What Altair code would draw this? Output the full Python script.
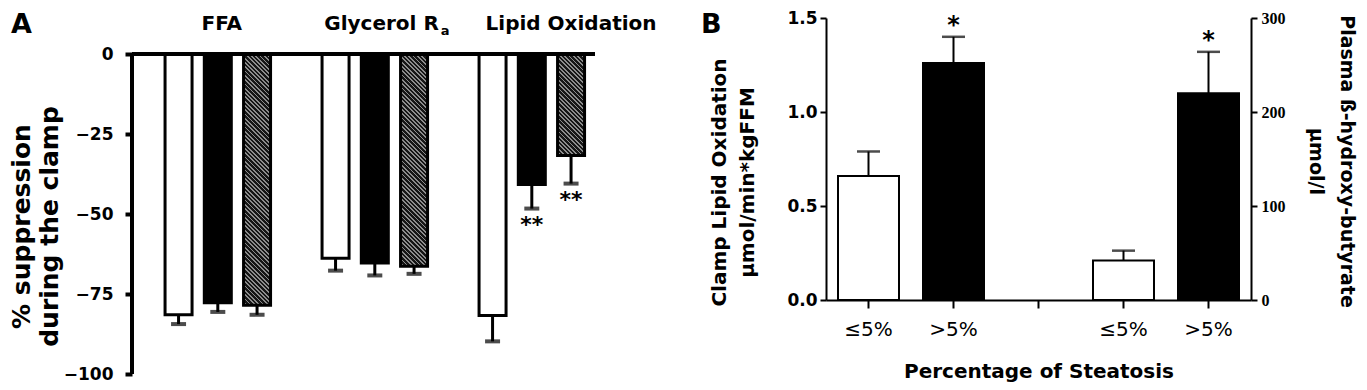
import altair as alt
import pandas as pd

# ---------------- Panel A data ----------------
A_ids = ["FFA_w", "FFA_b", "FFA_h", "Gly_w", "Gly_b", "Gly_h", "Lip_w", "Lip_b", "Lip_h"]
A_groups = ["white", "black", "hatched"] * 3
A_mean = [-81.5, -77.7, -78.5, -63.8, -65.3, -66.3, -81.7, -40.8, -31.7]
A_err = [2.9, 2.9, 3.0, 3.9, 3.9, 2.4, 8.1, 7.5, 8.8]
A_slots = ["FFA_w", "FFA_b", "FFA_h", "gap1", "Gly_w", "Gly_b", "Gly_h", "gap2", "Lip_w", "Lip_b", "Lip_h"]
A_star_ids = ["Lip_b", "Lip_h"]
A_star_text = ["**", "**"]
A_head_text = ["FFA", "Glycerol R", "Lipid Oxidation"]
A_head_at = ["FFA_b", "Gly_b", "Lip_h"]
A_yticks = [0, -25, -50, -75, -100]

# ---------------- Panel B data ----------------
B_slots = ["a_le", "a_gt", "gap", "b_le", "b_gt"]
B_slot_labels = ["≤5%", ">5%", "", "≤5%", ">5%"]
B_left_ids = ["a_le", "a_gt"]
B_left_mean = [0.66, 1.26]
B_left_err = [0.13, 0.14]
B_left_fill = ["white", "black"]
B_right_ids = ["b_le", "b_gt"]
B_right_mean = [42, 220]
B_right_err = [10.5, 44]
B_right_fill = ["white", "black"]
B_left_ticks = [0, 0.5, 1.0, 1.5]
B_right_ticks = [0, 100, 200, 300]

FONT = "DejaVu Sans"

# ---------------- Panel A ----------------
A_W, A_H = 463, 356
A_TOP = 11.25
PX = A_H / (A_TOP + 100)
A_PI, A_PO, A_ALIGN = 0.312, 0.554, 0.76
A_STEP = A_W / (len(A_slots) - A_PI + 2 * A_PO)
A_BW = A_STEP * (1 - A_PI)

dfA = pd.DataFrame({"id": A_ids, "grp": A_groups, "mean": A_mean, "err": A_err})
dfA["lo"] = dfA["mean"] - dfA["err"]

xA = alt.X("id:N", scale=alt.Scale(domain=A_slots, paddingInner=A_PI,
                                    paddingOuter=A_PO, align=A_ALIGN), axis=None)
axisA = alt.Axis(values=A_yticks, domain=False, tickSize=7, tickWidth=4,
                 labelFontSize=17, labelFontWeight="bold", labelPadding=12,
                 title=["% suppression", "during the clamp"], titleFontSize=25,
                 titleFontWeight="bold", titleLineHeight=28, titlePadding=1,
                 titleY=208)
scaleA = alt.Scale(domain=[-100, A_TOP], nice=False, zero=False)


def yA(field):
    return alt.Y(field, type="quantitative", scale=scaleA, axis=axisA)


baseA = alt.Chart(dfA)

barsA = baseA.transform_filter("datum.grp != 'hatched'").mark_bar(
    stroke="black", strokeWidth=3).encode(
    x=xA, y=yA("mean"), fill=alt.Fill("grp:N", scale=None))


def hatch_gradient(h, w, period=4.3, light_frac=0.42, dark="#161616", light="#8c8c8c"):
    k = (w + h) / (w * w + h * h)
    L = w + h
    stops = []
    c = 0.0
    while c < L:
        t0 = c / L
        t1 = min((c + period * (1 - light_frac)) / L, 1.0)
        t2 = min((c + period) / L, 1.0)
        stops += [{"offset": t0, "color": dark}, {"offset": t1, "color": dark},
                  {"offset": t1, "color": light}, {"offset": t2, "color": light}]
        c += period
    return {"gradient": "linear", "x1": 0, "y1": 1, "x2": k * w, "y2": 1 - k * h,
            "stops": stops}


hatch_layers = []
for i, g in enumerate(A_groups):
    if g != "hatched":
        continue
    bid = A_ids[i]
    h = abs(A_mean[i]) * PX
    hatch_layers.append(
        baseA.transform_filter(alt.datum.id == bid).mark_bar(
            stroke="black", strokeWidth=3, fill=hatch_gradient(h, A_BW)).encode(
            x=xA, y=yA("mean")))

errA = baseA.mark_rule(strokeWidth=3, color="black").encode(
    x=xA, y=yA("mean"), y2="lo:Q")
capA = baseA.mark_tick(size=15, thickness=4, color="black").encode(x=xA, y=yA("lo"))

dfAstar = dfA[dfA["id"].isin(A_star_ids)].copy()
dfAstar["txt"] = A_star_text
starA = alt.Chart(dfAstar).mark_text(fontSize=22, fontWeight="bold", font=FONT,
                                     baseline="alphabetic", dy=23).encode(
    x=xA, y=yA("lo"), text="txt:N")

zeroA = alt.Chart(pd.DataFrame({"v": [0]})).mark_rule(strokeWidth=4, color="black").encode(
    y=yA("v"), x=alt.value(0), x2=alt.value(A_W))
vaxA = alt.Chart(pd.DataFrame({"a": [0], "b": [-100]})).mark_rule(
    strokeWidth=4, color="black").encode(y=yA("a"), y2="b:Q", x=alt.value(0))

dfHead = pd.DataFrame({"id": A_head_at, "txt": A_head_text, "yv": [7.5] * 3})
headA1 = alt.Chart(dfHead[dfHead["txt"] == "FFA"]).mark_text(
    fontSize=20, fontWeight="bold", font=FONT, baseline="alphabetic", dx=4).encode(
    x=xA, y=yA("yv"), text="txt:N")
headA2 = alt.Chart(dfHead[dfHead["txt"] == "Glycerol R"]).mark_text(
    fontSize=20, fontWeight="bold", font=FONT, baseline="alphabetic", align="right", dx=64).encode(
    x=xA, y=yA("yv"), text="txt:N")
headA2s = alt.Chart(dfHead[dfHead["txt"] == "Glycerol R"].assign(sub="a")).mark_text(
    fontSize=13, fontWeight="bold", font=FONT, baseline="alphabetic", align="left", dx=66, dy=5).encode(
    x=xA, y=yA("yv"), text="sub:N")
headA3 = alt.Chart(dfHead[dfHead["txt"] == "Lipid Oxidation"]).mark_text(
    fontSize=20, fontWeight="bold", font=FONT, baseline="alphabetic").encode(
    x=xA, y=yA("yv"), text="txt:N")

letterA = alt.Chart(pd.DataFrame({"t": ["A"]})).mark_text(
    fontSize=27, fontWeight="bold", font=FONT, align="left", baseline="alphabetic").encode(
    text="t:N", x=alt.value(-121), y=alt.value(15))

panelA = alt.layer(barsA, *hatch_layers, errA, capA, starA, zeroA, vaxA,
                   headA1, headA2, headA2s, headA3, letterA).properties(width=A_W, height=A_H)

# ---------------- Panel B ----------------
B_W, B_H = 425, 282
label_expr = " : ".join(
    f"datum.value == '{s}' ? '{l}'" for s, l in zip(B_slots[:-1], B_slot_labels[:-1])
) + f" : '{B_slot_labels[-1]}'"

xB = alt.X("id:N", scale=alt.Scale(domain=B_slots, paddingInner=0.2824, paddingOuter=0.1412),
           axis=alt.Axis(labelExpr=label_expr, labelAngle=0, domainWidth=2, tickWidth=2,
                         tickSize=8, labelFontSize=20, labelFontWeight="normal",
                         labelPadding=11, title="Percentage of Steatosis",
                         titleFontSize=20, titleFontWeight="bold", titlePadding=22))

axisBL = alt.Axis(values=B_left_ticks, format=".1f", orient="left", domainWidth=2,
                  tickWidth=2, tickSize=6, labelFontSize=17, labelFontWeight="bold",
                  labelPadding=3, title=["Clamp Lipid Oxidation", "µmol/min*kgFFM"],
                  titleFontSize=20, titleFontWeight="bold", titleLineHeight=28,
                  titlePadding=29, titleY=164)
axisBR = alt.Axis(values=B_right_ticks, orient="right", domainWidth=2,
                  tickWidth=2, tickSize=6, labelFontSize=16, labelFontWeight="bold",
                  labelFont="Liberation Sans Narrow", labelPadding=4,
                  title=["Plasma ß-hydroxy-butyrate", "µmol/l"],
                  titleFontSize=19, titleFontWeight="bold", titleLineHeight=31,
                  titlePadding=20, titleY=143)
scaleBL = alt.Scale(domain=[0, 1.5], nice=False)
scaleBR = alt.Scale(domain=[0, 300], nice=False)


def side(ids, mean, err, fill, scale, axis, star_ids):
    df = pd.DataFrame({"id": ids, "mean": mean, "err": err, "fill": fill})
    df["hi"] = df["mean"] + df["err"]
    y = lambda f: alt.Y(f, type="quantitative", scale=scale, axis=axis)
    base = alt.Chart(df)
    bars = base.mark_bar(stroke="black", strokeWidth=2).encode(
        x=xB, y=y("mean"), fill=alt.Fill("fill:N", scale=None))
    err_r = base.mark_rule(strokeWidth=2, color="black").encode(x=xB, y=y("mean"), y2="hi:Q")
    cap = base.mark_tick(size=23, thickness=2.5, color="black").encode(x=xB, y=y("hi"))
    star = base.transform_filter(alt.FieldOneOfPredicate(field="id", oneOf=star_ids)).mark_text(
        text="*", fontSize=24, fontWeight="bold", font=FONT, baseline="alphabetic", dy=-4).encode(
        x=xB, y=y("hi"))
    return alt.layer(bars, err_r, cap, star)


leftB = side(B_left_ids, B_left_mean, B_left_err, B_left_fill, scaleBL, axisBL, [B_left_ids[1]])
rightB = side(B_right_ids, B_right_mean, B_right_err, B_right_fill, scaleBR, axisBR, [B_right_ids[1]])
letterB = alt.Chart(pd.DataFrame({"t": ["B"]})).mark_text(
    fontSize=27, fontWeight="bold", font=FONT, align="left", baseline="alphabetic").encode(
    text="t:N", x=alt.value(-125), y=alt.value(15))

panelB = alt.layer(alt.layer(leftB, letterB), rightB).resolve_scale(y="independent").properties(
    width=B_W, height=B_H)

chart = alt.hconcat(panelA, panelB, spacing=231, bounds="flush").properties(
    padding={"top": 1, "left": 1, "right": 4, "bottom": 0}
).configure_view(stroke=None).configure_axis(
    grid=False, domainColor="black", tickColor="black", labelColor="black",
    titleColor="black", labelFont=FONT, titleFont=FONT
).configure_text(color="black")

chart.save("out.html", embed_options={"renderer": "svg", "actions": False})
